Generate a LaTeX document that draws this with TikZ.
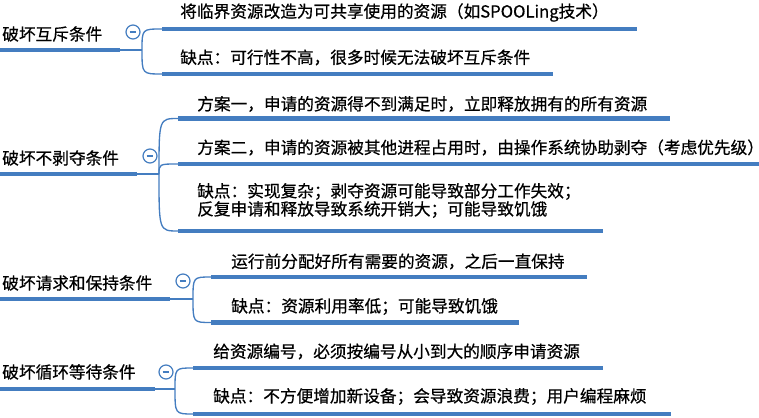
\documentclass[tikz,border=0pt]{standalone}
\usepackage{fontspec}
\setmainfont[FakeBold=0.6]{Noto Sans CJK SC}
\definecolor{mapblue}{RGB}{68,125,192}
\begin{document}
\begin{tikzpicture}[x=0.75pt,y=-0.75pt,
  label/.style={anchor=west,inner sep=0pt,font=\fontsize{12.5pt}{11.5pt}\selectfont},
  bar/.style={mapblue,line width=3.2pt},
  twig/.style={mapblue,line width=1pt},
  fold/.style={circle,draw=mapblue,line width=0.9pt,fill=white,minimum size=10.5pt,inner sep=0pt,
    path picture={\draw[mapblue,line width=0.9pt] ([xshift=-2.5pt]path picture bounding box.center) -- ([xshift=2.5pt]path picture bounding box.center);}}]
\useasboundingbox (0,0) rectangle (759,417);
% mutual exclusion
\node[label] (r1) at (2,34) {破坏互斥条件};
\coordinate (r1a) at (0,50); \coordinate (r1b) at (120,50); \coordinate (b1) at (142,50);
\node[label] (c11) at (180,12.5) {将临界资源改造为可共享使用的资源（如SPOOLing技术）};
\coordinate (c11a) at (162,29); \coordinate (c11b) at (637,29);
\node[label] (c12) at (180,57.5) {缺点：可行性不高，很多时候无法破坏互斥条件};
\coordinate (c12a) at (162,74); \coordinate (c12b) at (553,74);
\draw[bar] (r1a) -- (r1b);
\draw[bar] (c11a) -- (c11b);
\draw[bar] (c12a) -- (c12b);
\draw[twig] (r1b) -- (b1);
\draw[twig] (b1) .. controls (b1 |- c11a) .. (c11a);
\draw[twig] (b1) .. controls (b1 |- c12a) .. (c12a);
\node[fold] (f1) at (133,32) {};
% no preemption
\node[label] (r2) at (2,158) {破坏不剥夺条件};
\coordinate (r2a) at (0,174); \coordinate (r2b) at (137,174); \coordinate (b2) at (159,174);
\node[label] (c21) at (197,104) {方案一，申请的资源得不到满足时，立即释放拥有的所有资源};
\coordinate (c21a) at (178,118.5); \coordinate (c21b) at (670,118.5);
\node[label] (c22) at (197,147.5) {方案二，申请的资源被其他进程占用时，由操作系统协助剥夺（考虑优先级）};
\coordinate (c22a) at (178,164); \coordinate (c22b) at (759,164);
\node[label,align=left] (c23) at (197,200.5) {缺点：实现复杂；剥夺资源可能导致部分工作失效；\\反复申请和释放导致系统开销大；可能导致饥饿};
\coordinate (c23a) at (178,231); \coordinate (c23b) at (603,231);
\draw[bar] (r2a) -- (r2b);
\draw[bar] (c21a) -- (c21b);
\draw[bar] (c22a) -- (c22b);
\draw[bar] (c23a) -- (c23b);
\draw[twig] (r2b) -- (b2);
\draw[twig] (b2) .. controls (b2 |- c21a) .. (c21a);
\draw[twig] (b2) .. controls (b2 |- c22a) .. (c22a);
\draw[twig] (b2) .. controls (b2 |- c23a) .. (c23a);
\node[fold] (f2) at (150,156) {};
% hold and wait
\node[label] (r3) at (2,283) {破坏请求和保持条件};
\coordinate (r3a) at (0,299); \coordinate (r3b) at (170,299); \coordinate (b3) at (193,299);
\node[label] (c31) at (231,261.5) {运行前分配好所有需要的资源，之后一直保持};
\coordinate (c31a) at (211,277); \coordinate (c31b) at (587,277);
\node[label] (c32) at (231,306.5) {缺点：资源利用率低；可能导致饥饿};
\coordinate (c32a) at (211,322.5); \coordinate (c32b) at (519,322.5);
\draw[bar] (r3a) -- (r3b);
\draw[bar] (c31a) -- (c31b);
\draw[bar] (c32a) -- (c32b);
\draw[twig] (r3b) -- (b3);
\draw[twig] (b3) .. controls (b3 |- c31a) .. (c31a);
\draw[twig] (b3) .. controls (b3 |- c32a) .. (c32a);
\node[fold] (f3) at (183,281) {};
% circular wait
\node[label] (r4) at (2,372) {破坏循环等待条件};
\coordinate (r4a) at (0,389); \coordinate (r4b) at (155,389); \coordinate (b4) at (175,389);
\node[label] (c41) at (213,351.5) {给资源编号，必须按编号从小到大的顺序申请资源};
\coordinate (c41a) at (193,368); \coordinate (c41b) at (603,368);
\node[label] (c42) at (213,396.5) {缺点：不方便增加新设备；会导致资源浪费；用户编程麻烦};
\coordinate (c42a) at (193,414); \coordinate (c42b) at (671,414);
\draw[bar] (r4a) -- (r4b);
\draw[bar] (c41a) -- (c41b);
\draw[bar] (c42a) -- (c42b);
\draw[twig] (r4b) -- (b4);
\draw[twig] (b4) .. controls (b4 |- c41a) .. (c41a);
\draw[twig] (b4) .. controls (b4 |- c42a) .. (c42a);
\node[fold] (f4) at (166,372) {};
\end{tikzpicture}
\end{document}
